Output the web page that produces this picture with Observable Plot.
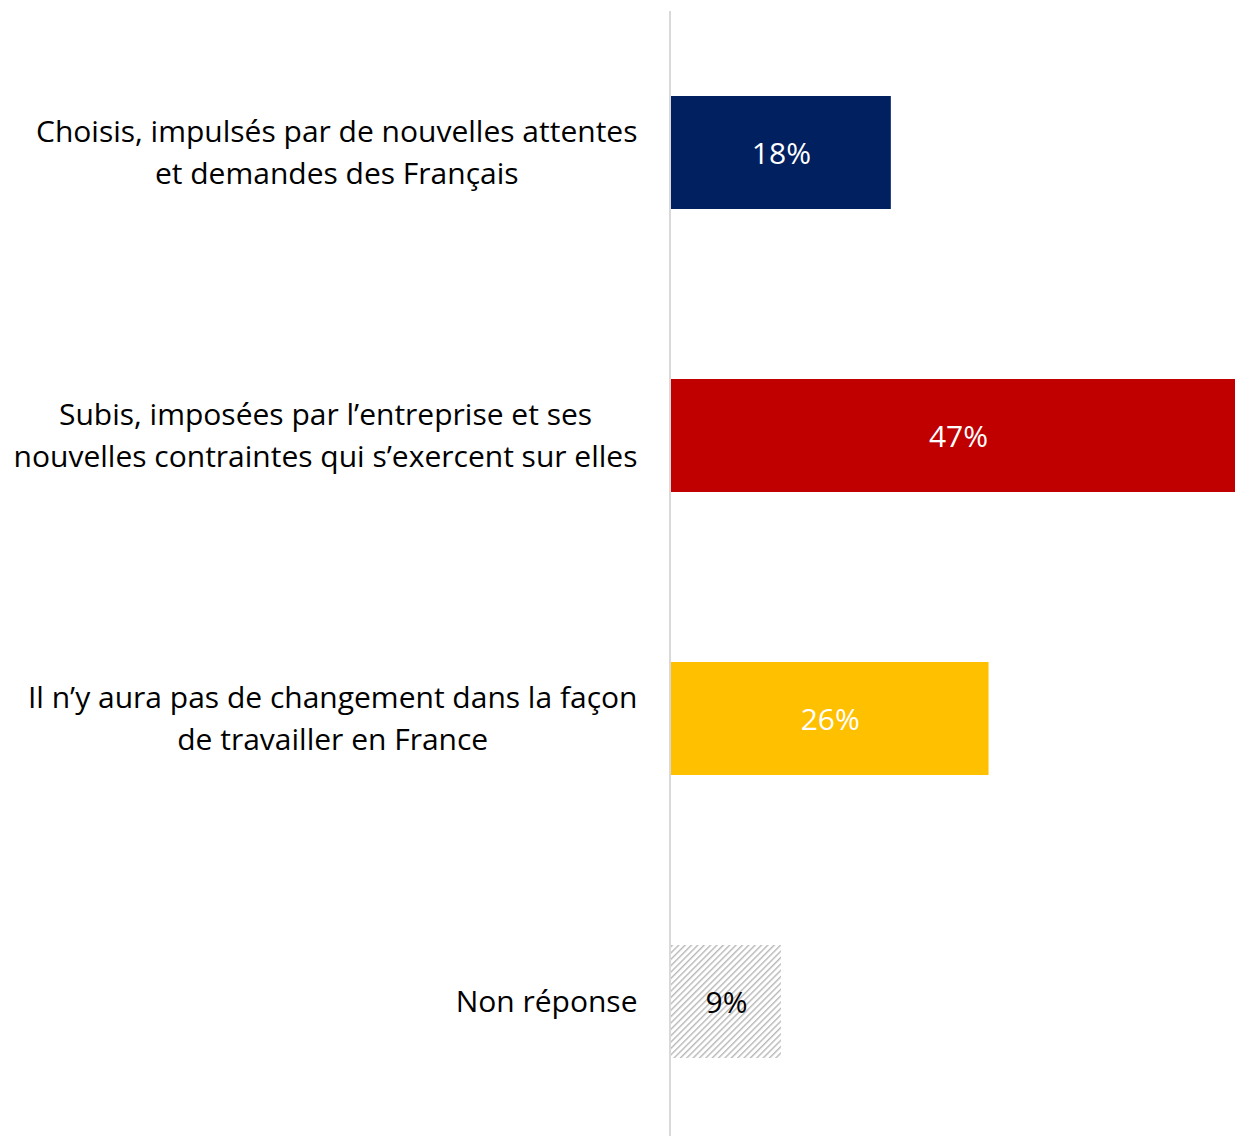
<!DOCTYPE html>
<html>
<head>
<meta charset="utf-8">
<script src="https://cdn.jsdelivr.net/npm/d3@7"></script>
<script src="https://cdn.jsdelivr.net/npm/@observablehq/plot@0.6"></script>
<style>
  html, body { margin: 0; padding: 0; background: #fff; overflow: hidden; }
  #chart svg { display: block; overflow: hidden; }
</style>
</head>
<body>
<div id="chart"></div>
<script>
const categories = [
  "Choisis, impulsés par de nouvelles attentes\net demandes des Français",
  "Subis, imposées par l’entreprise et ses\nnouvelles contraintes qui s’exercent sur elles",
  "Il n’y aura pas de changement dans la façon\nde travailler en France",
  "Non réponse"
];
const values = [18, 47, 26, 9];
const colors = ["#002060", "#C00000", "#FFC000", "url(#hatch)"];
const labelColors = ["#ffffff", "#ffffff", "#ffffff", "#000000"];

const data = categories.map((c, i) => ({cat: c, value: values[i], fill: colors[i], lc: labelColors[i]}));
const FONT = "'Open Sans', Lato, sans-serif";

const plot = Plot.plot({
  width: 1235,
  height: 1136,
  marginLeft: 671,
  marginRight: -10,
  marginTop: 11,
  marginBottom: -7,
  style: {fontFamily: FONT, background: "#fff"},
  x: {domain: [0, 47], axis: null},
  y: {domain: categories, axis: null, paddingInner: 0.6, paddingOuter: 0.3},
  marks: [
    Plot.barX(data, {x: "value", y: "cat", fill: d => d.fill}),
    Plot.ruleX([0], {stroke: "#d9d9d9", strokeWidth: 2, dx: -1.5}),
    Plot.text(data, {x: d => d.value / 2, y: "cat", text: d => d.value + "%", fill: d => d.lc, fontSize: 30, dy: 1}),
    Plot.text(data, {x: 0, y: "cat", text: "cat", textAnchor: "end", dx: -34, dy: -3, fontSize: 30, lineHeight: 1.4, fill: "#000", className: "cat-labels"})
  ]
});

document.getElementById("chart").appendChild(plot);

// hatch pattern definition
const svg = d3.select(plot);
const defs = svg.insert("defs", ":first-child");
const pat = defs.append("pattern")
  .attr("id", "hatch")
  .attr("patternUnits", "userSpaceOnUse")
  .attr("width", 4.5).attr("height", 4.5)
  .attr("patternTransform", "rotate(45)");
pat.append("rect").attr("width", 4.5).attr("height", 4.5).attr("fill", "#ffffff");
pat.append("rect").attr("width", 1.4).attr("height", 4.5).attr("fill", "#b8b8b8");

// center the lines of each category label inside a right-aligned block
svg.selectAll("g.cat-labels text").each(function() {
  const t = d3.select(this);
  const w = this.getBBox().width;
  t.attr("text-anchor", "middle");
  const tspans = t.selectAll("tspan");
  if (tspans.size()) tspans.attr("x", -w / 2);
  else t.attr("x", -w / 2);
});
</script>
</body>
</html>
